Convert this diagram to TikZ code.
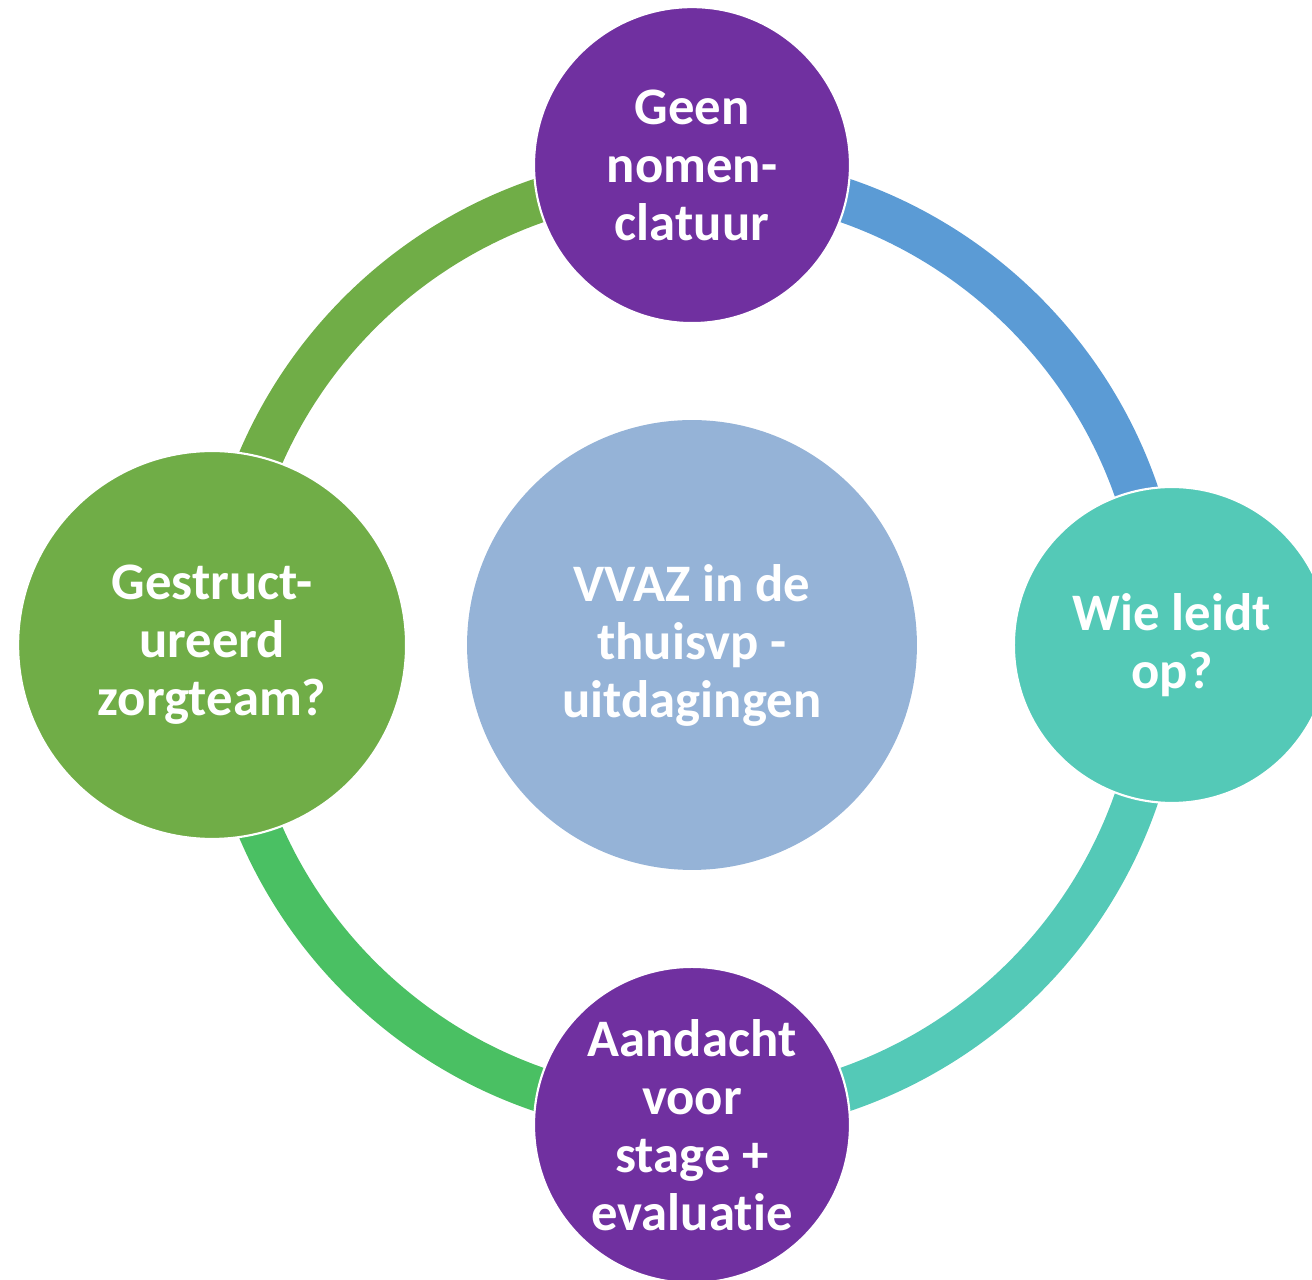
\documentclass[tikz,border=0pt]{standalone}
\usepackage{fontspec}
\setmainfont{Carlito}[Ligatures=NoCommon]
\usetikzlibrary{positioning}

\definecolor{bubblepurple}{HTML}{7030A0}
\definecolor{hubblue}{HTML}{95B3D7}
\definecolor{bubbleteal}{HTML}{54C9B7}
\definecolor{bubblegreen}{HTML}{70AD47}
\definecolor{arcblue}{HTML}{5B9BD5}
\definecolor{arcgreen}{HTML}{4AC063}

\begin{document}
\begin{tikzpicture}[
  x=0.02cm, y=0.02cm,
  bubble/.style = {circle, draw=white, line width=1.2pt, inner sep=0pt, outer sep=0pt,
                   align=center, text=white, font=\fontsize{30}{33}\selectfont\bfseries},
  ringarc/.style = {line width=0.88cm},
  node distance=1.94cm
]
  \useasboundingbox (-692,-635) rectangle (620,645);

  % ring points
  \coordinate (ringE) at (0:470);
  \coordinate (ringN) at (90:470);
  \coordinate (ringW) at (180:470);
  \coordinate (ringS) at (270:470);

  % ring
  \draw[ringarc, arcblue] (ringE) arc[start angle=0, end angle=90, radius=470];
  \draw[ringarc, bubblegreen] (ringN) arc[start angle=90, end angle=180, radius=470];
  \draw[ringarc, arcgreen] (ringW) arc[start angle=180, end angle=270, radius=470];
  \draw[ringarc, bubbleteal] (ringS) arc[start angle=270, end angle=360, radius=470];

  % hub
  \node[bubble, draw=none, fill=hubblue, minimum size=9cm] (hub) at (0,0) {VVAZ in de\\thuisvp -\\uitdagingen};

  % satellites
  \node[bubble, fill=bubblepurple, minimum size=6.32cm, above=of hub] (nomen) {Geen\\nomen-\\clatuur};
  \node[bubble, fill=bubbleteal, minimum size=6.32cm, right=of hub] (opleiding) {Wie leidt\\op?};
  \node[bubble, fill=bubblepurple, minimum size=6.32cm, below=of hub] (stage) {Aandacht\\voor\\stage +\\evaluatie};
  \node[bubble, fill=bubblegreen, minimum size=7.76cm, left=1.22cm of hub] (zorgteam) {Gestruct-\\ureerd\\zorgteam?};

\end{tikzpicture}
\end{document}
